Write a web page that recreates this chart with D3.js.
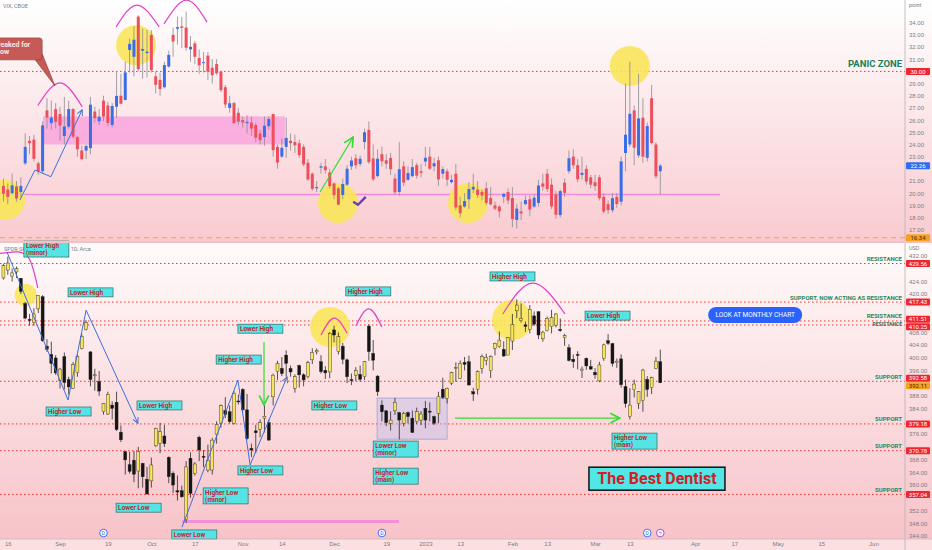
<!DOCTYPE html>
<html>
<head>
<meta charset="utf-8">
<script src="https://cdnjs.cloudflare.com/ajax/libs/d3/7.8.5/d3.min.js"></script>
<style>
  body { margin: 0; background: #fff; }
  svg { display: block; font-family: Roboto, "Liberation Sans", sans-serif; }
</style>
</head>
<body>
<div id="chart"></div>
<script>
// bar index 0 = Aug 16 2022, first bar is Aug 15 (index -1), trading days only
var firstBar = -1;

// VIX daily [open, high, low, close]
var vixBars = [
  [20.6,21.2,19.3,19.95],[20.3,20.8,19.1,19.69],[20.0,21.6,19.9,20.64],[20.55,21.0,19.3,19.56],[20.1,21.3,19.7,20.6],
  [22.45,24.9,22.3,23.8],[24.3,24.7,23.2,24.11],[24.4,24.8,22.6,22.82],[22.45,22.6,21.5,21.78],[21.8,25.9,21.6,25.56],
  [26.8,27.8,25.3,26.21],[25.75,27.6,25.2,26.21],[26.9,27.4,25.3,25.87],[26.5,27.1,24.3,25.56],[24.7,27.9,24.0,25.47],
  [25.46,27.6,25.3,26.91],[26.9,27.0,24.5,24.64],[24.6,24.7,23.0,23.61],[23.5,23.9,22.7,22.79],[23.5,24.0,22.8,23.87],
  [23.7,27.9,23.2,27.27],[26.7,27.1,25.8,26.16],[25.9,26.9,25.6,26.27],[27.6,28.0,25.9,26.3],[27.2,27.5,25.5,25.76],
  [25.6,27.4,25.4,27.16],[27.1,30.0,26.2,27.99],[28.0,29.8,27.3,27.35],[27.66,30.8,27.6,29.92],[31.76,32.7,29.9,32.26],
  [31.2,33.7,29.6,32.6],[34.5,34.6,30.0,30.18],[31.7,33.5,29.4,31.84],[31.5,33.4,29.5,31.62],[33.0,33.4,29.9,30.1],
  [29.6,30.0,28.2,28.9],[29.3,29.9,28.0,28.55],[28.7,30.8,28.6,30.52],[30.4,31.7,30.3,31.36],[33.0,33.6,31.2,32.45],
  [33.5,34.5,32.2,33.63],[33.7,34.5,31.9,33.57],[33.6,34.9,31.7,31.94],[31.81,32.9,30.8,32.02],[32.3,32.5,30.6,31.2],
  [31.1,31.8,29.8,30.5],[30.7,31.6,29.9,30.76],[31.3,31.6,29.3,29.98],[30.3,31.0,29.0,29.69],[30.6,31.0,29.7,29.85],
  [29.98,30.0,28.3,28.46],[28.7,28.9,27.0,27.28],[27.0,28.0,26.6,27.39],[27.4,27.5,25.7,25.75],[26.6,27.0,25.6,25.88],
  [26.0,26.3,25.4,25.81],[25.75,26.4,24.9,25.86],[25.8,26.3,24.7,25.3],[25.6,25.8,24.2,24.55],[24.9,25.2,24.0,24.35],
  [24.6,26.3,23.9,25.54],[25.5,26.3,25.2,26.09],[26.5,26.5,23.0,23.53],[23.8,24.0,22.0,22.52],[23.0,24.5,22.9,23.73],
  [23.8,26.2,22.9,24.54],[24.3,24.9,23.5,24.11],[24.2,24.8,23.3,23.93],[24.1,24.4,22.9,23.12],[23.8,24.0,22.2,22.36],
  [22.5,22.8,21.0,21.13],[21.6,21.7,20.2,20.35],[20.4,21.0,20.1,20.5],[22.1,22.5,21.6,22.21],[22.2,22.8,21.6,21.89],
  [21.7,22.0,20.4,20.58],[20.8,20.9,19.5,19.84],[20.4,20.5,19.0,19.06],[19.85,21.2,19.5,20.75],[20.7,22.3,20.6,22.01],
  [22.2,23.0,21.9,22.68],[22.86,23.2,22.0,22.29],[22.4,23.1,22.2,22.83],[24.2,25.3,23.6,25.0],[25.2,25.9,22.4,22.55],
  [22.85,24.0,21.0,21.14],[21.4,23.6,21.3,22.83],[23.2,23.8,22.2,22.62],[22.7,23.2,22.0,22.42],[22.9,23.3,21.5,21.97],
  [21.2,21.6,19.9,20.07],[20.1,24.2,19.8,21.97],[22.2,22.6,20.6,20.87],[21.1,22.2,21.0,21.65],[21.4,22.8,21.3,22.14],
  [22.3,22.5,21.2,21.44],[21.8,22.4,21.3,21.67],[22.6,23.8,22.2,22.9],[23.0,23.8,21.9,22.01],[22.2,22.9,21.8,22.46],
  [22.7,23.0,20.6,21.13],[21.6,22.2,21.2,21.97],[21.8,22.0,20.6,21.1],[20.9,21.5,20.8,21.09],[21.6,22.4,18.6,18.83],
  [19.0,19.7,18.0,18.35],[18.9,20.0,18.8,19.36],[19.5,20.9,18.7,20.34],[20.3,21.6,20.0,20.52],[20.3,21.0,19.6,19.85],
  [20.1,20.3,19.4,19.81],[20.4,20.9,19.0,19.2],[19.6,20.5,19.0,19.08],[19.0,19.3,18.6,18.73],[18.9,19.0,18.0,18.51],
  [19.7,20.0,19.2,19.94],[20.1,20.4,19.1,19.4],[19.6,20.5,17.2,17.87],[17.8,19.1,17.1,18.73],[18.5,19.3,17.8,18.33],
  [19.1,19.8,19.0,19.43],[19.5,19.8,18.1,18.66],[18.9,19.9,18.8,19.63],[19.2,21.1,18.9,20.63],[20.8,21.6,20.2,20.53],
  [21.6,22.0,20.1,20.34],[20.7,21.2,18.7,18.91],[19.9,20.2,17.9,18.23],[18.2,20.3,18.0,20.17],[20.86,21.2,19.7,20.02],
  [21.8,23.5,21.6,22.87],[23.0,23.6,22.0,22.29],[22.3,22.8,20.9,21.14],[21.5,23.0,21.1,21.67],[22.0,22.3,20.7,20.95],
  [21.3,21.5,20.4,20.7],[20.9,21.5,20.2,20.58],[21.3,21.5,19.4,19.59],[19.7,20.0,18.3,18.49],[19.1,19.4,18.3,18.61],
  [18.6,20.0,18.4,19.59],[19.7,20.0,18.8,19.11],[19.3,23.0,19.0,22.61],[23.3,29.0,21.8,24.8],[24.0,30.8,23.8,26.52],
  [26.8,27.2,22.3,23.73],[23.1,29.8,22.9,26.14],[26.2,27.8,22.5,22.99],[22.9,25.8,22.6,25.51],[27.8,28.9,24.0,24.12],
  [24.0,24.2,21.2,21.38],[21.8,22.4,19.9,22.26]
];

// SPY daily [open, high, low, close]
var spyBars = [
  [425.0,429.5,424.5,428.9],[427.5,431.7,426.0,429.7],[425.6,428.0,423.9,426.6],[426.9,428.6,425.0,427.9],[424.9,425.0,420.0,420.8],
  [417.0,417.5,412.0,412.4],[412.0,413.7,410.0,411.7],[411.0,415.5,410.0,413.7],[415.3,419.6,414.0,419.5],[419.1,419.6,405.0,405.3],
  [403.6,405.8,401.8,402.6],[401.0,405.0,395.0,398.2],[399.9,400.8,394.6,395.2],[392.9,396.8,390.3,396.4],[400.3,401.6,390.0,392.2],
  [393.1,394.0,388.4,390.8],[390.4,398.6,390.2,397.8],[395.3,401.0,394.0,400.4],[402.9,407.5,402.6,406.6],[408.8,411.7,408.5,411.0],
  [401.8,402.0,391.0,393.1],[394.5,396.5,389.6,394.6],[392.5,395.8,388.0,389.5],[383.0,385.7,382.1,385.6],[382.3,389.3,382.0,388.5],
  [385.1,386.3,380.6,384.1],[386.0,389.3,377.0,377.4],[376.6,378.7,373.5,374.2],[370.5,370.6,363.3,367.9],[366.4,370.5,363.6,364.3],
  [367.8,370.7,360.9,363.4],[364.4,372.0,359.0,370.5],[366.8,367.0,359.2,362.6],[361.8,365.7,357.0,357.2],[361.3,368.6,359.2,366.3],
  [372.3,378.0,372.0,377.8],[373.1,379.5,370.0,376.8],[375.4,378.9,372.0,373.0],[368.7,369.0,360.6,362.6],[363.7,364.3,357.5,360.0],
  [358.2,363.0,355.1,357.8],[358.2,359.8,356.0,356.3],[349.2,367.5,348.1,365.7],[368.4,370.3,356.0,357.4],[363.6,367.2,363.0,366.6],
  [375.0,375.5,367.5,371.0],[369.0,371.0,365.6,368.7],[364.7,372.7,364.0,367.8],[364.7,374.8,363.3,374.1],[375.8,380.0,373.0,379.0],
  [379.4,385.3,378.0,384.9],[383.4,387.6,381.0,382.2],[383.0,385.0,379.3,379.9],[379.4,389.5,379.0,388.8],[386.4,388.4,385.3,386.2],
  [390.0,390.4,383.0,383.6],[383.6,388.6,374.2,374.6],[371.5,373.0,368.8,371.0],[377.0,378.9,370.0,376.4],[377.5,380.6,375.0,379.6],
  [381.0,386.0,376.5,381.6],[379.6,380.6,374.0,374.1],[387.7,395.0,385.0,394.5],[395.6,399.0,393.0,398.2],[396.6,400.2,394.2,395.0],
  [400.8,402.3,394.0,398.2],[396.6,397.5,394.0,395.5],[390.4,394.7,389.0,394.0],[397.5,397.8,390.6,394.6],[394.6,395.1,391.0,393.0],
  [394.0,399.0,393.5,398.4],[399.3,402.9,398.0,401.6],[401.8,402.9,401.0,402.3],[398.7,400.8,395.0,395.6],[396.0,397.3,393.3,395.2],
  [395.5,408.0,393.5,407.6],[408.7,410.0,404.8,407.1],[401.9,407.9,401.0,406.6],[403.6,404.6,397.9,399.5],[399.3,399.7,392.0,394.0],
  [393.1,395.0,391.4,393.0],[394.5,397.0,392.6,395.9],[394.7,397.5,392.5,393.2],[394.0,398.9,393.0,398.7],[409.9,410.5,399.0,401.9],
  [401.3,405.5,396.0,399.2],[394.2,394.5,388.0,389.3],[385.1,386.6,380.0,383.0],[383.3,383.5,378.5,379.6],[379.4,383.1,377.1,380.4],
  [383.3,387.4,382.0,386.0],[382.7,383.0,374.3,380.4],[379.4,383.0,378.4,382.5],[382.7,383.1,379.3,381.5],[381.0,383.4,376.4,376.5],
  [379.9,384.3,379.1,383.0],[380.4,383.2,378.8,382.3],[384.1,386.4,377.8,380.4],[383.2,385.9,380.0,383.1],[381.5,381.8,378.8,379.4],
  [382.5,389.3,379.4,387.7],[390.1,393.7,387.0,387.5],[387.2,390.6,385.6,390.4],[392.0,395.6,391.4,395.3],[396.7,398.5,392.4,396.9],
  [393.5,399.1,393.3,398.2],[398.5,400.2,396.0,397.9],[398.7,400.6,391.3,391.4],[389.3,390.5,386.4,388.6],[390.1,396.0,388.4,395.6],
  [396.6,401.0,395.0,400.3],[399.1,401.2,397.6,400.1],[395.9,400.7,393.6,400.3],[402.9,404.7,400.7,404.5],[403.4,408.2,403.1,405.5],
  [402.6,405.1,400.3,400.5],[400.8,406.5,400.8,406.3],[405.2,413.7,402.4,410.4],[414.7,418.3,412.4,416.5],[411.6,417.0,411.0,412.3],
  [410.3,411.3,408.1,409.8],[408.9,416.5,407.6,415.2],[413.1,414.5,409.9,410.5],[414.4,414.5,405.8,407.1],[405.9,408.4,405.0,408.0],
  [408.5,412.9,408.2,412.3],[409.7,415.0,407.6,412.6],[410.2,414.0,409.5,413.7],[408.9,412.3,408.1,408.5],[406.3,407.5,403.7,406.9],
  [403.1,404.2,398.8,399.1],[399.5,401.0,396.8,398.7],[401.0,402.0,396.3,400.8],[395.9,397.2,393.6,396.4],[399.8,400.0,396.2,397.4],
  [397.2,399.3,396.2,396.4],[395.4,396.7,393.4,394.6],[392.7,398.7,392.3,397.7],[399.7,404.4,399.0,404.0],[405.3,407.4,404.0,404.5],
  [404.4,404.6,397.2,398.2],[398.4,399.7,396.8,398.9],[399.6,401.0,390.6,391.5],[390.9,393.1,384.3,385.6],[381.5,390.4,380.6,385.1],
  [389.9,393.1,387.5,391.7],[385.6,389.5,383.9,389.3],[386.5,396.5,383.0,396.1],[393.2,394.2,387.7,390.0],[390.6,394.0,388.6,393.7],
  [396.6,400.2,396.4,398.9],[398.7,402.5,392.0,392.1]
];

var dateTicks = [[0,"16"],[12,"Sep"],[23,"19"],[33,"Oct"],[43,"17"],[54,"Nov"],[63,"14"],[75,"Dec"],[87,"19"],[96,"2023"],
  [104,"13"],[116,"Feb"],[124,"13"],[135,"Mar"],[143,"13"],[158,"Apr"],[167,"17"],[177,"May"],[187,"15"],[199,"Jun"]];
var vixTicks = [17,18,19,20,21,22,23,24,25,26,27,28,29,30,31,32,33,34];
var spyTicks = [344,348,352,356,360,364,368,372,376,380,384,388,392,396,400,404,408,412,416,420,424,428,432];

var vixPanic = 30;
var vixFloor = 19.9;
var vixLow = 16.34;
var vixLast = 22.26;
var spyLast = 392.11;
var spyLevels = [429.56, 417.43, 411.51, 410.25, 392.58, 379.18, 370.78, 357.04];
var spyLevelNames = ["RESISTANCE", "SUPPORT, NOW ACTING AS RESISTANCE", "RESISTANCE", "RESISTANCE",
  "SUPPORT", "SUPPORT", "SUPPORT", "SUPPORT"];

// annotations, in [bar index, price]
var vixCircles = [[-0.6,19.45],[29.5,32.15],[75.9,19.2],[105.8,19.2],[143,30.45]];
var vixArcs = [
  [[6.9,27.2],[12,29.05],[17.1,27.1]],
  [[24.9,33.65],[29.7,35.45],[34.8,33.65]],
  [[35.9,33.9],[41,35.85],[45.8,34.05]]
];
var vixZone = [8.1, 63.7, 24.0, 26.3];
var vixZigzag = [[2.8,19.45],[6.25,21.9],[9.9,21.35],[17.1,26.85]];
var vixGreenArrow = [[71.8,20.1],[79.4,24.6]];
var vixCheck = [[79.4,19.3],[80.5,19.05],[82.3,19.7]];
var peakNote = { text: ["Peaked for", "now"], right: 7.9, top: 32.75, bottom: 30.95, tip: [10.85, 28.8] };

var spyCircles = [[4.1,419.7,11],[74.1,409.6,20],[115.9,411.8,20]];
var spyArcs = [
  [[-1.8,432.7],[2.3,433.2],[5.1,430.6],[6.9,421.9]],
  [[72,407.1],[75,412.4],[78,407.7]],
  [[80,409.9],[83,415.3],[86,409.6]],
  [[113.8,413.7],[120.7,423.4],[128.1,413.7]]
];
var spyZigzags = [
  [[-0.2,433.2],[13.85,386.7],[18,414.9],[29.9,379.4]],
  [[40.05,346.8],[52.9,393.0],[55.7,366.3],[64.2,393.9]]
];
var spyGreenArrows = [[[58.9,404.9],[58.9,385.1]], [[102.8,381.0],[140.7,381.0]]];
var spyBox = [84.9, 101, 374.4, 387.3];
var spyPinkBar = [40.05, 89.9, 348.55];
var spyNotes = [
  [3.7,436.6,["Lower High","(minor)"]],[13.85,421.9,["Lower High"]],[8.8,384.5,["Higher Low"]],
  [29.7,386.4,["Lower High"]],[24.9,354.3,["Lower Low"]],[37.7,345.9,["Lower Low"]],
  [44.9,359.1,["Higher Low","(minor)"]],[47.9,400.8,["Higher High"]],[52.9,410.5,["Lower High"]],
  [52.9,366.0,["Higher Low"]],[69.9,386.4,["Higher Low"]],[77.7,422.2,["Higher High"]],
  [84.0,373.8,["Lower Low","(minor)"]],[84.0,365.3,["Higher Low","(main)"]],[110.85,426.9,["Higher High"]],
  [132.7,414.6,["Lower High"]],[138.9,376.3,["Higher Low","(main)"]]
];
var dentist = [133.6, 365.6, "The Best Dentist"];
var monthly = [161, 415.9, "LOOK AT MONTHLY CHART"];
var events = [[22,"D"],[86,"D"],[147,"D"],[150,"ϟ"]];

var width = 932, height = 550, axisX = 905;
var topPane = [0, 241], botPane = [243, 539];

var svg = d3.select("#chart").append("svg")
    .attr("width", width)
    .attr("height", height);
var defs = svg.append("defs");

function grad(id, c0, c1) {
  var g = defs.append("linearGradient").attr("id", id)
      .attr("x1", "0%").attr("y1", "0%").attr("x2", "0%").attr("y2", "100%");
  g.append("stop").attr("offset", "0%").attr("stop-color", c0);
  g.append("stop").attr("offset", "100%").attr("stop-color", c1);
}
grad("gTop", "#ffffff", "#f9cbd0");
grad("gBot", "#fffbfb", "#f7c3c8");

function marker(id, color, size) {
  defs.append("marker").attr("id", id)
      .attr("viewBox", "0 0 10 10").attr("refX", 9).attr("refY", 5)
      .attr("markerUnits", "userSpaceOnUse")
      .attr("markerWidth", size).attr("markerHeight", size)
      .attr("orient", "auto")
    .append("path")
      .attr("d", "M1,1 L9,5 L1,9")
      .attr("fill", "none").attr("stroke", color).attr("stroke-width", 1.4);
}
marker("arrBlue", "#3b6fe0", 7);
marker("arrGreen", "#33dd33", 12);

defs.append("clipPath").attr("id", "clipTop").append("rect")
    .attr("x", 0).attr("y", topPane[0]).attr("width", axisX).attr("height", topPane[1] - topPane[0]);
defs.append("clipPath").attr("id", "clipBot").append("rect")
    .attr("x", 0).attr("y", botPane[0]).attr("width", axisX).attr("height", botPane[1] - botPane[0]);

svg.append("rect").attr("width", width).attr("height", height).attr("fill", "#fbdfe1");
svg.append("rect").attr("y", topPane[0]).attr("width", width).attr("height", topPane[1] - topPane[0]).attr("fill", "url(#gTop)");
svg.append("rect").attr("y", botPane[0]).attr("width", width).attr("height", botPane[1] - botPane[0]).attr("fill", "url(#gBot)");

var x = d3.scaleLinear().domain([12, 199]).range([60, 873.45]);
var vixY = d3.scaleLinear().domain([17, 34]).range([229.7, 22.7]);
var spyY = d3.scaleLinear().domain([344, 432]).range([536, 255.7]);

var topG = svg.append("g").attr("clip-path", "url(#clipTop)");
var botG = svg.append("g").attr("clip-path", "url(#clipBot)");

// ---------- top pane: VIX ----------
topG.append("rect")
    .attr("x", x(vixZone[0])).attr("width", x(vixZone[1]) - x(vixZone[0]))
    .attr("y", vixY(vixZone[3])).attr("height", vixY(vixZone[2]) - vixY(vixZone[3]))
    .attr("fill", "#f9a9df").attr("opacity", 0.9);

topG.append("line")
    .attr("x1", 0).attr("x2", x(163.7))
    .attr("y1", vixY(vixFloor)).attr("y2", vixY(vixFloor))
    .attr("stroke", "#f28be0").attr("stroke-width", 1.5);

topG.append("line")
    .attr("x1", 0).attr("x2", axisX)
    .attr("y1", vixY(vixPanic)).attr("y2", vixY(vixPanic))
    .attr("stroke", "#e53935").attr("stroke-width", 1).attr("stroke-dasharray", "1.5,2.5");

topG.append("line")
    .attr("x1", 0).attr("x2", axisX)
    .attr("y1", vixY(vixLow)).attr("y2", vixY(vixLow))
    .attr("stroke", "#f5a53a").attr("stroke-width", 1).attr("stroke-dasharray", "5,4");

topG.selectAll("circle.hl").data(vixCircles).enter().append("circle")
    .attr("cx", function(d) { return x(d[0]); })
    .attr("cy", function(d) { return vixY(d[1]); })
    .attr("r", 20)
    .attr("fill", "#f9e65a").attr("opacity", 0.9);

function drawCandles(g, bars, y, up, down, wick, edge) {
  var c = g.append("g").selectAll("g").data(bars).enter().append("g");
  c.append("line")
      .attr("x1", function(d, k) { return x(k + firstBar); })
      .attr("x2", function(d, k) { return x(k + firstBar); })
      .attr("y1", function(d) { return y(d[1]); })
      .attr("y2", function(d) { return y(d[2]); })
      .attr("stroke", wick).attr("stroke-width", 0.8);
  c.append("rect")
      .attr("x", function(d, k) { return x(k + firstBar) - 1.5; })
      .attr("width", 3)
      .attr("y", function(d) { return y(Math.max(d[0], d[3])); })
      .attr("height", function(d) { return Math.max(1, Math.abs(y(d[0]) - y(d[3]))); })
      .attr("fill", function(d) { return d[3] >= d[0] ? up : down; })
      .attr("stroke", edge).attr("stroke-width", edge ? 0.4 : 0);
}
drawCandles(topG, vixBars, vixY, "#3a6ee8", "#ee4f5d", "#8a8a90", null);

var arcLine = d3.line().curve(d3.curveNatural);
topG.selectAll("path.arc").data(vixArcs).enter().append("path")
    .attr("d", function(d) { return arcLine(d.map(function(p) { return [x(p[0]), vixY(p[1])]; })); })
    .attr("fill", "none").attr("stroke", "#e23fc8").attr("stroke-width", 1.2);

topG.append("path")
    .attr("d", d3.line()(vixZigzag.map(function(p) { return [x(p[0]), vixY(p[1])]; })))
    .attr("fill", "none").attr("stroke", "#3b6fe0").attr("stroke-width", 1)
    .attr("marker-end", "url(#arrBlue)");

topG.append("path")
    .attr("d", d3.line()(vixGreenArrow.map(function(p) { return [x(p[0]), vixY(p[1])]; })))
    .attr("fill", "none").attr("stroke", "#33dd33").attr("stroke-width", 1.2)
    .attr("marker-end", "url(#arrGreen)");

topG.append("path")
    .attr("d", d3.line()(vixCheck.map(function(p) { return [x(p[0]), vixY(p[1])]; })))
    .attr("fill", "none").attr("stroke", "#6a3db8").attr("stroke-width", 2.4);

// "Peaked for now" callout, its left part runs off the chart as in the original
var px = x(peakNote.right), pt = vixY(peakNote.top), pb = vixY(peakNote.bottom);
topG.append("path")
    .attr("d", "M" + (px - 7) + "," + pb + "L" + x(peakNote.tip[0]) + "," + vixY(peakNote.tip[1]) + "L" + px + "," + (pb - 6))
    .attr("fill", "#c65a57").attr("stroke", "#8e3432").attr("stroke-width", 0.6);
topG.append("rect")
    .attr("x", -20).attr("y", pt).attr("width", px + 20).attr("height", pb - pt).attr("rx", 3)
    .attr("fill", "#c65a57").attr("stroke", "#8e3432").attr("stroke-width", 0.6);
topG.selectAll("text.pk").data(peakNote.text).enter().append("text")
    .attr("x", -4).attr("y", function(d, k) { return pt + 9 + k * 7; })
    .attr("fill", "#fde6e6").attr("font-size", 7).attr("font-weight", "bold")
    .text(function(d) { return d; });

svg.append("text").attr("x", 3).attr("y", 8)
    .attr("fill", "#7a7d86").attr("font-size", 5.5).text("VIX, CBOE");

svg.append("text").attr("x", 902).attr("y", vixY(vixPanic) - 4)
    .attr("text-anchor", "end").attr("fill", "#17805a")
    .attr("font-size", 9.5).attr("font-weight", "bold").text("PANIC ZONE");

// ---------- bottom pane: SPY ----------
botG.append("line")
    .attr("x1", x(spyPinkBar[0])).attr("x2", x(spyPinkBar[1]))
    .attr("y1", spyY(spyPinkBar[2])).attr("y2", spyY(spyPinkBar[2]))
    .attr("stroke", "#f48ed8").attr("stroke-width", 3);

botG.selectAll("line.lvl").data(spyLevels).enter().append("line")
    .attr("x1", 0).attr("x2", axisX)
    .attr("y1", function(d) { return spyY(d); })
    .attr("y2", function(d) { return spyY(d); })
    .attr("stroke", "#e53935").attr("stroke-width", 1).attr("stroke-dasharray", "1.5,2.5");

botG.append("rect")
    .attr("x", x(spyBox[0])).attr("width", x(spyBox[1]) - x(spyBox[0]))
    .attr("y", spyY(spyBox[3])).attr("height", spyY(spyBox[2]) - spyY(spyBox[3]))
    .attr("fill", "#b9b9ec").attr("fill-opacity", 0.4)
    .attr("stroke", "#a0a0dc").attr("stroke-width", 0.8);

botG.selectAll("circle.hl").data(spyCircles).enter().append("circle")
    .attr("cx", function(d) { return x(d[0]); })
    .attr("cy", function(d) { return spyY(d[1]); })
    .attr("r", function(d) { return d[2]; })
    .attr("fill", "#f9e65a").attr("opacity", 0.9);

drawCandles(botG, spyBars, spyY, "#f7e35c", "#141414", "#2a2a2a", "#222");

botG.selectAll("path.arc").data(spyArcs).enter().append("path")
    .attr("d", function(d) { return arcLine(d.map(function(p) { return [x(p[0]), spyY(p[1])]; })); })
    .attr("fill", "none").attr("stroke", "#e23fc8").attr("stroke-width", 1.2);

botG.selectAll("path.zz").data(spyZigzags).enter().append("path")
    .attr("d", function(d) { return d3.line()(d.map(function(p) { return [x(p[0]), spyY(p[1])]; })); })
    .attr("fill", "none").attr("stroke", "#3b6fe0").attr("stroke-width", 1)
    .attr("marker-end", "url(#arrBlue)");

botG.selectAll("path.ga").data(spyGreenArrows).enter().append("path")
    .attr("d", function(d) { return d3.line()(d.map(function(p) { return [x(p[0]), spyY(p[1])]; })); })
    .attr("fill", "none").attr("stroke", "#33dd33").attr("stroke-width", 1.2)
    .attr("marker-end", "url(#arrGreen)");

svg.append("text").attr("x", 4).attr("y", 251)
    .attr("fill", "#7a7d86").attr("font-size", 5.5).text("SPDR S&P 500 ETF TRUST, 1D, Arca");

var notes = svg.append("g").selectAll("g").data(spyNotes).enter().append("g")
    .attr("transform", function(d) { return "translate(" + x(d[0]) + "," + spyY(d[1]) + ")"; });
notes.append("rect")
    .attr("width", 45)
    .attr("height", function(d) { return d[2].length > 1 ? 16 : 9; })
    .attr("fill", "#55e4e4").attr("stroke", "#2d6a6a").attr("stroke-width", 0.7);
notes.selectAll("text").data(function(d) { return d[2]; }).enter().append("text")
    .attr("x", 2).attr("y", function(d, k) { return 7 + k * 7; })
    .attr("fill", "#c0282d").attr("font-size", 6.5).attr("font-weight", "bold")
    .text(function(d) { return d; });

var dg = svg.append("g").attr("transform", "translate(" + x(dentist[0]) + "," + spyY(dentist[1]) + ")");
dg.append("rect").attr("width", 136).attr("height", 23)
    .attr("fill", "#52e6e6").attr("stroke", "#111").attr("stroke-width", 1.5);
dg.append("text").attr("x", 68).attr("y", 17).attr("text-anchor", "middle")
    .attr("fill", "#d41c24").attr("font-size", 16).attr("font-weight", "bold").text(dentist[2]);

var mg = svg.append("g").attr("transform", "translate(" + x(monthly[0]) + "," + spyY(monthly[1]) + ")");
mg.append("rect").attr("width", 94).attr("height", 16).attr("rx", 8)
    .attr("fill", "#2962ff");
mg.append("text").attr("x", 47).attr("y", 10.5).attr("text-anchor", "middle")
    .attr("fill", "#ffffff").attr("font-size", 6.5).text(monthly[2]);

svg.selectAll("text.lvl").data(spyLevels).enter().append("text")
    .attr("x", 902)
    .attr("y", function(d, k) { return spyY(d) - (k === 3 ? -1.5 : 2.5); })
    .attr("text-anchor", "end")
    .attr("fill", function(d, k) { return k === 3 ? "#3c6e5a" : "#1f8a5e"; })
    .attr("font-size", function(d, k) { return k === 3 ? 5 : 6; })
    .attr("font-weight", "bold")
    .text(function(d, k) { return spyLevelNames[k]; });

var ev = svg.append("g").selectAll("g").data(events).enter().append("g")
    .attr("transform", function(d) { return "translate(" + x(d[0]) + ",533)"; });
ev.append("circle").attr("r", 3.8).attr("fill", "#fff")
    .attr("stroke", function(d) { return d[1] === "D" ? "#2962ff" : "#9c3fd0"; }).attr("stroke-width", 0.9);
ev.append("text").attr("y", 1.9).attr("text-anchor", "middle").attr("font-size", 5)
    .attr("fill", function(d) { return d[1] === "D" ? "#2962ff" : "#9c3fd0"; })
    .text(function(d) { return d[1]; });

// ---------- axes ----------
svg.append("line").attr("x1", axisX).attr("x2", axisX).attr("y1", 0).attr("y2", height)
    .attr("stroke", "#b8b0b2").attr("stroke-width", 0.8);
svg.append("line").attr("x1", 0).attr("x2", width).attr("y1", 242).attr("y2", 242)
    .attr("stroke", "#f0c2c6").attr("stroke-width", 2);
svg.append("line").attr("x1", 0).attr("x2", width).attr("y1", botPane[1]).attr("y2", botPane[1])
    .attr("stroke", "#c9b9bb").attr("stroke-width", 0.8);

function styleAxis(g) {
  g.select(".domain").remove();
  g.selectAll("text").attr("fill", "#7a7d86").attr("font-size", 6);
}
// price tags sit on top of the scale; drop tick labels they would cover
function hideUnder(scale, tags) {
  return function(g) {
    g.selectAll(".tick").filter(function(v) {
      return tags.some(function(t) { return Math.abs(scale(v) - scale(t)) < 6.5; });
    }).remove();
  };
}

svg.append("g").attr("transform", "translate(" + axisX + ",0)")
    .call(d3.axisRight(vixY).tickValues(vixTicks).tickFormat(d3.format(".2f")).tickSize(0).tickPadding(4))
    .call(styleAxis)
    .call(hideUnder(vixY, [vixPanic, vixLast, vixLow]));
svg.append("g").attr("transform", "translate(" + axisX + ",0)")
    .call(d3.axisRight(spyY).tickValues(spyTicks).tickFormat(d3.format(".2f")).tickSize(0).tickPadding(4))
    .call(styleAxis)
    .call(hideUnder(spyY, spyLevels.concat([spyLast])));
svg.append("g").attr("transform", "translate(0," + botPane[1] + ")")
    .call(d3.axisBottom(x).tickValues(dateTicks.map(function(d) { return d[0]; }))
      .tickFormat(function(v) { return dateTicks.find(function(d) { return d[0] === v; })[1]; })
      .tickSize(0).tickPadding(3))
    .call(styleAxis);

svg.append("text").attr("x", 909).attr("y", 7).attr("fill", "#7a7d86").attr("font-size", 5.5).text("point");
svg.append("text").attr("x", 909).attr("y", 250).attr("fill", "#7a7d86").attr("font-size", 5.5).text("USD");

// price tags on the scale; like the original, close tags are pushed apart so they don't overlap
var tagH = 7.4;
function drawTags(tags) {
  tags.forEach(function(t) { t.y = t.scale(t.v); });
  tags.sort(function(a, b) { return a.y - b.y; });
  for (var k = 1; k < tags.length; k++) {
    var gap = tags[k].y - tags[k - 1].y;
    if (gap < tagH) {
      tags[k - 1].y -= (tagH - gap) / 2;
      tags[k].y += (tagH - gap) / 2;
    }
  }
  tags.forEach(function(t) {
    var g = svg.append("g").attr("transform", "translate(906," + t.y + ")");
    g.append("rect").attr("y", -3.5).attr("width", 24).attr("height", 7).attr("rx", 1).attr("fill", t.fill);
    g.append("text").attr("x", 12).attr("y", 2.1).attr("text-anchor", "middle")
        .attr("fill", t.color).attr("font-size", 6).text(d3.format(".2f")(t.v));
  });
}
drawTags([
  { v: vixPanic, scale: vixY, fill: "#f0262f", color: "#fff" },
  { v: vixLast, scale: vixY, fill: "#2f6cf0", color: "#fff" },
  { v: vixLow, scale: vixY, fill: "#f7a11f", color: "#3a2a10" }
]);
drawTags(spyLevels.map(function(v) { return { v: v, scale: spyY, fill: "#f0262f", color: "#fff" }; })
  .concat([{ v: spyLast, scale: spyY, fill: "#f7a11f", color: "#3a2a10" }]));
</script>
</body>
</html>
